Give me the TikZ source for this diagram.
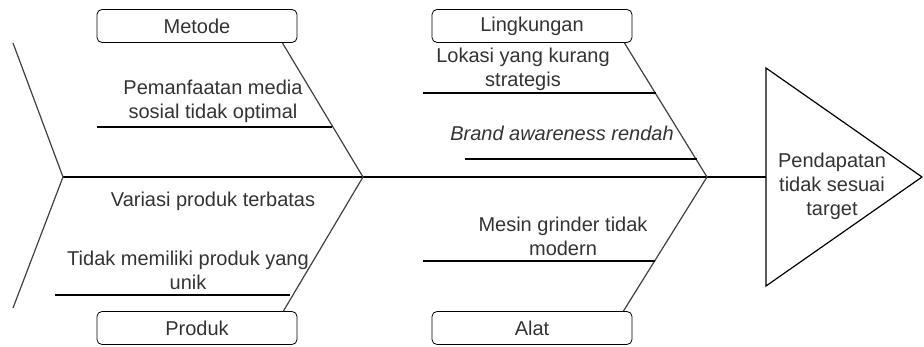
\documentclass[tikz,border=0pt]{standalone}
\usepackage{fontspec}
\setmainfont{Liberation Sans}
\usetikzlibrary{calc,positioning}
\tikzset{
  kat/.style={draw,thick,rounded corners=5pt,minimum width=200pt,minimum height=33pt,inner sep=0pt,text=black!80},
  tx/.style={align=center,inner sep=1pt,text=black!80},
  ln/.style={draw,line width=1.2pt},
  bn/.style={draw=black!75,line width=1.2pt}
}
\begin{document}
\begin{tikzpicture}[x=1pt,y=-1pt,font=\fontsize{20}{24}\selectfont]
\useasboundingbox (0,0) rectangle (924,347);
% kepala ikan
\coordinate (k1) at (766,68);
\coordinate (k2) at (922,177);
\coordinate (k3) at (766,286);
\coordinate (kk) at (766,177);
\draw[ln] (k1)--(k2)--(k3)--cycle;
\node[tx] (hasil) at (832,186) {Pendapatan\\tidak sesuai\\target};
% tulang utama dan ekor
\coordinate (ekor) at (63,177);
\coordinate (e1) at (13,43);
\coordinate (e2) at (13,308);
\coordinate (j1) at (363,177);
\coordinate (j2) at (707,177);
\draw[ln] (ekor)--(kk);
\draw[bn] (e1)--(ekor)--(e2);
% kategori
\node[kat] (metode) at (197,26) {Metode};
\node[kat] (produk) at (197,328) {Produk};
\node[kat] (lingkungan) at (532,26) {Lingkungan};
\node[kat] (alat) at (532,328) {Alat};
\foreach \b/\s/\d/\j in {metode/south/15/j1,produk/north/14/j1,lingkungan/south/8/j2,alat/north/9/j2}{
  \draw[bn] ([xshift=-\d pt]\b.\s\space east)--(\j);
}
% penyebab
\coordinate (a1) at (97,127);  \coordinate (b1) at (332,127);
\coordinate (a2) at (55,295);  \coordinate (b2) at (290,295);
\coordinate (a3) at (423,93);  \coordinate (b3) at (656,93);
\coordinate (a4) at (465,159); \coordinate (b4) at (697,159);
\coordinate (a5) at (423,261); \coordinate (b5) at (655,261);
\foreach \i in {1,...,5}{\draw[ln] (a\i)--(b\i);}
\node[tx] (p1) at (213,101) {Pemanfaatan media\\sosial tidak optimal};
\node[tx] (p2) at (213,201) {Variasi produk terbatas};
\node[tx] (p3) at (188,270) {Tidak memiliki produk yang\\unik};
\node[tx] (p4) at (523,69) {Lokasi yang kurang\\strategis};
\node[tx,font=\fontsize{20}{24}\selectfont\itshape] (p5) at (562,133) {Brand awareness rendah};
\node[tx] (p6) at (563,236) {Mesin grinder tidak\\modern};
\end{tikzpicture}
\end{document}
